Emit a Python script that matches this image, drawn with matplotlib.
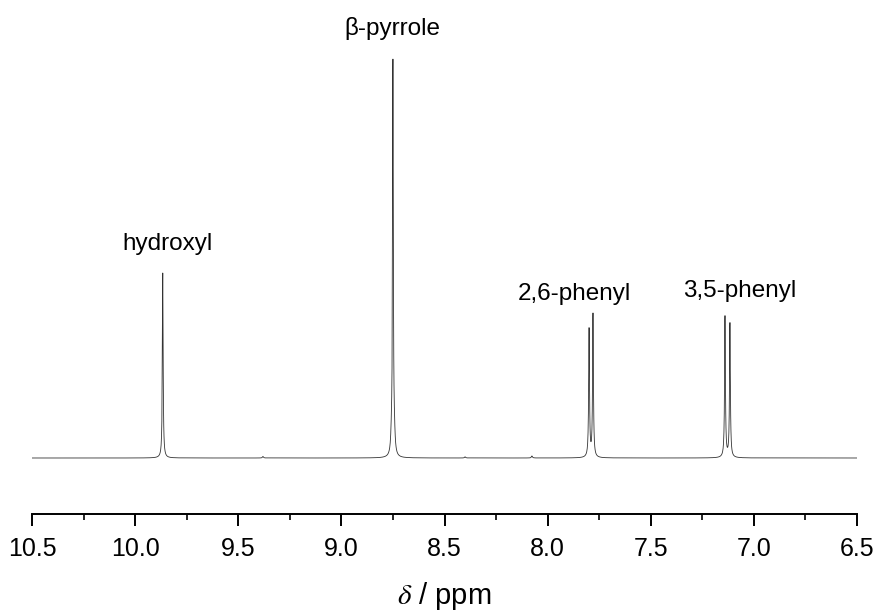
import numpy as np
import matplotlib
matplotlib.use('Agg')
import matplotlib.pyplot as plt
from matplotlib.ticker import MultipleLocator

plt.rcParams['font.family'] = ['Liberation Sans', 'DejaVu Sans']
plt.rcParams['mathtext.fontset'] = 'stix'

# peak list (ppm, height, half width)
peak_ppm = [9.866, 8.750, 8.757, 8.743, 7.799, 7.780, 7.140, 7.116, 8.076, 9.38, 8.40]
peak_height = [185, 392, 14, 14, 129, 143, 141, 134, 2, 1.5, 1.2]
peak_hw = [0.0022, 0.0022, 0.004, 0.004, 0.0024, 0.0024, 0.0024, 0.0024, 0.003, 0.003, 0.003]

labels = ['hydroxyl', 'β-pyrrole', '2,6-phenyl', '3,5-phenyl']
label_x = [9.841, 8.755, 7.872, 7.067]
label_y = [214, 430, 164, 167]

ppm = np.arange(6.5, 10.5, 0.0004)
spec = np.zeros_like(ppm)
for c, h, w in zip(peak_ppm, peak_height, peak_hw):
    spec += h * w**2 / ((ppm - c)**2 + w**2)

fig = plt.figure(figsize=(8.8, 6.12), dpi=100)
ax = fig.add_axes([32 / 880, 98 / 612, 825 / 880, 483 / 612])
ax.plot(ppm, spec, color='#333333', lw=0.6)

ax.set_xlim(10.5, 6.5)
ax.set_ylim(-56, 427)
for s in ['top', 'left', 'right']:
    ax.spines[s].set_visible(False)
ax.spines['bottom'].set_linewidth(1.4)
ax.set_yticks([])
ax.xaxis.set_major_locator(MultipleLocator(0.5))
ax.xaxis.set_minor_locator(MultipleLocator(0.25))
ax.xaxis.set_major_formatter(plt.FormatStrFormatter('%.1f'))
ax.tick_params(axis='x', which='major', length=8.6, width=1.4, labelsize=18, pad=8)
ax.tick_params(axis='x', which='minor', length=4.3, width=1.2)

for t, x, y in zip(labels, label_x, label_y):
    ax.text(x, y, t, ha='center', va='center', fontsize=17.5)

ax.set_xlabel(r'$\delta$ / ppm', fontsize=21, labelpad=14)

fig.savefig('out.png', dpi=100)
